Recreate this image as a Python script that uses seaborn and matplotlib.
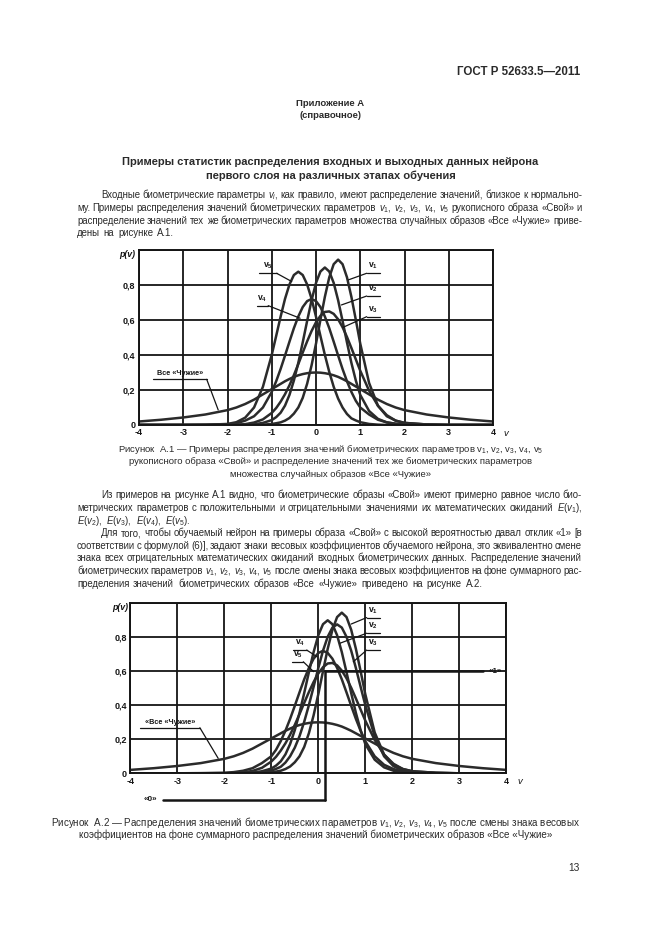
"""
Страница ГОСТ Р 52633.5-2011, приложение А: два графика распределений
биометрических параметров v1..v5 и образов «Все «Чужие».
"""

import matplotlib
matplotlib.use("Agg")
import matplotlib.pyplot as plt
import seaborn as sns

sns.set_theme(style="white")
plt.rcParams["font.family"] = ["Liberation Sans", "DejaVu Sans"]
plt.rcParams["mathtext.fontset"] = "custom"
plt.rcParams["mathtext.rm"] = "Liberation Sans"
plt.rcParams["mathtext.it"] = "Liberation Sans:italic"
plt.rcParams["mathtext.bf"] = "Liberation Sans:bold"

X = [-4, -3.5, -3, -2.5, -2, -1.8, -1.6, -1.4, -1.2, -1.0,
     -0.9, -0.8, -0.7, -0.6, -0.5, -0.4, -0.3, -0.2, -0.1, 0.0,
     0.1, 0.2, 0.3, 0.4, 0.5, 0.6, 0.7, 0.8, 0.9, 1.0,
     1.2, 1.4, 1.6, 1.8, 2.0, 2.5, 3.0, 3.5, 4.0]

V1 = [0, 0, 0, 0, 0, 0, 0, 0, 0.002, 0.006,
      0.010, 0.015, 0.025, 0.040, 0.065, 0.100, 0.155, 0.236, 0.341, 0.465,
      0.601, 0.732, 0.844, 0.919, 0.945, 0.919, 0.844, 0.732, 0.601, 0.465,
      0.240, 0.110, 0.050, 0.025, 0.012, 0.003, 0, 0, 0]
V2 = [0, 0, 0, 0, 0, 0, 0.001, 0.004, 0.012, 0.028,
      0.045, 0.070, 0.111, 0.172, 0.254, 0.355, 0.472, 0.595, 0.713, 0.812,
      0.877, 0.900, 0.877, 0.812, 0.713, 0.595, 0.472, 0.355, 0.254, 0.172,
      0.080, 0.035, 0.015, 0.007, 0.003, 0, 0, 0, 0]
V3 = [0, 0, 0, 0, 0.001, 0.002, 0.005, 0.014, 0.032, 0.069,
      0.097, 0.133, 0.176, 0.227, 0.285, 0.348, 0.414, 0.478, 0.537, 0.587,
      0.624, 0.646, 0.649, 0.635, 0.604, 0.559, 0.503, 0.440, 0.375, 0.310,
      0.196, 0.110, 0.056, 0.025, 0.012, 0.003, 0, 0, 0]
V4 = [0, 0, 0, 0.001, 0.004, 0.010, 0.025, 0.050, 0.100, 0.189,
      0.250, 0.320, 0.397, 0.476, 0.553, 0.620, 0.674, 0.708, 0.720, 0.708,
      0.674, 0.620, 0.553, 0.476, 0.397, 0.320, 0.250, 0.189, 0.138, 0.100,
      0.060, 0.030, 0.015, 0.007, 0.003, 0.001, 0, 0, 0]
V5 = [0, 0, 0, 0.001, 0.006, 0.016, 0.042, 0.100, 0.218, 0.401,
      0.509, 0.619, 0.721, 0.803, 0.857, 0.876, 0.857, 0.803, 0.721, 0.619,
      0.509, 0.401, 0.303, 0.218, 0.151, 0.100, 0.063, 0.038, 0.026, 0.016,
      0.006, 0.002, 0, 0, 0, 0, 0, 0, 0]
ALIEN = [0.020, 0.030, 0.043, 0.060, 0.085, 0.100, 0.120, 0.145, 0.175, 0.205,
         0.220, 0.235, 0.250, 0.263, 0.275, 0.284, 0.291, 0.296, 0.299, 0.300,
         0.299, 0.296, 0.291, 0.284, 0.275, 0.263, 0.250, 0.235, 0.220, 0.205,
         0.175, 0.145, 0.120, 0.100, 0.085, 0.060, 0.043, 0.030, 0.020]

# рисунок А.2: отрицательные мат. ожидания (v4, v5) меняют знак
V4_FLIP = V4[::-1]
V5_FLIP = V5[::-1]

# выход нейрона «0»/«1»
STEP_X = 0.15
LEVEL_1 = 0.6
LEVEL_0 = -0.157

X_TICKS = [-4, -3, -2, -1, 0, 1, 2, 3, 4]
X_LABELS = ["-4", "-3", "-2", "-1", "0", "1", "2", "3", "4"]
Y_TICKS = [0, 0.2, 0.4, 0.6, 0.8, 1.0]
Y_LABELS = ["0", "0,2", "0,4", "0,6", "0,8", ""]

TEXT = "#2a2a2a"
INK = "#151515"
CURVE = "#2b2b2b"
W, H = 661, 936
BODY = 6.9
CAP = 6.8

fig = plt.figure(figsize=(W / 100, H / 100), dpi=100)
renderer = fig.canvas.get_renderer()


def fy(py):
    return 1 - py / H


def put_line(text, py, x0=77, x1=582, indent=0, justify=True, size=BODY):
    """Строка абзаца с выравниванием по ширине (пробелы растягиваются)."""
    words = text.split(" ")
    items = [fig.text(0, fy(py), w, fontsize=size, va="baseline", color=TEXT) for w in words]
    widths = [t.get_window_extent(renderer).width for t in items]
    start = x0 + indent
    if justify and len(words) > 1:
        gap = (x1 - start - sum(widths)) / (len(words) - 1)
    else:
        gap = 0.4 * size * 100 / 72
    x = start
    for t, w in zip(items, widths):
        t.set_x(x / W)
        x += w + gap


def center_line(text, py, size=BODY, bold=False, cx=330.5):
    fig.text(cx / W, fy(py), text, ha="center", va="baseline", fontsize=size,
             fontweight="bold" if bold else "normal", color=TEXT)


def callout(ax, label, ux0, ux1, uy, tip, size=6.2):
    """Выноска: подчёркнутая подпись и линия к кривой."""
    joint = ux0 if tip[0] < ux0 else ux1
    ax.plot([ux0, ux1], [uy, uy], color=INK, lw=0.9, clip_on=False)
    ax.plot([joint, tip[0]], [uy, tip[1]], color=INK, lw=0.9, clip_on=False)
    ax.text((ux0 + ux1) / 2, uy + 0.012, label, ha="center", va="bottom",
            fontsize=size, fontweight="bold", color=INK)


def draw_chart(ax, curves, pv_x):
    ax.set_xlim(-4, 4)
    ax.set_ylim(0, 1)
    ax.set_xticks(X_TICKS)
    ax.set_yticks(Y_TICKS)
    ax.set_xticklabels(X_LABELS, fontsize=6.5, fontweight="bold", color=INK)
    ax.set_yticklabels(Y_LABELS, fontsize=6.5, fontweight="bold", color=INK)
    ax.tick_params(length=0, pad=2.5)
    ax.grid(True, color=INK, lw=1.3)
    for sp in ax.spines.values():
        sp.set_color(INK)
        sp.set_linewidth(1.4)
    for ys in curves:
        sns.lineplot(x=X, y=ys, ax=ax, color=CURVE, lw=1.8, estimator=None, legend=False)
    ax.set_xlabel("")
    ax.set_ylabel("")
    ax.text(pv_x, 0.975, "p(v)", transform=ax.transAxes, ha="right", va="center",
            fontsize=6.3, fontstyle="italic", fontweight="bold", color=INK)
    ax.text(4.24, -0.046, "v", ha="left", va="center", fontsize=6.8,
            fontstyle="italic", color=INK, clip_on=False)


# --- заголовки и текст ---
fig.text(580 / W, fy(75), "ГОСТ Р 52633.5—2011", ha="right", va="baseline",
         fontsize=8.3, fontweight="bold", color=TEXT)
center_line("Приложение А", 106, size=6.8, bold=True)
center_line("(справочное)", 118, size=6.8, bold=True)
center_line("Примеры статистик распределения входных и выходных данных нейрона", 165, size=8, bold=True)
center_line("первого слоя на различных этапах обучения", 179, size=8, bold=True)

put_line("Входные биометрические параметры $v_i$, как правило, имеют распределение значений, близкое к нормально-", 198.5, indent=24)
put_line("му. Примеры распределения значений биометрических параметров $v_1$, $v_2$, $v_3$, $v_4$, $v_5$ рукописного образа «Свой» и", 211)
put_line("распределение значений тех же биометрических параметров множества случайных образов «Все «Чужие» приве-", 223.5)
put_line("дены на рисунке А.1.", 236, justify=False)

center_line("Рисунок  А.1 — Примеры распределения значений биометрических параметров v$_1$, v$_2$, v$_3$, v$_4$, v$_5$", 452, size=CAP)
center_line("рукописного образа «Свой» и распределение значений тех же биометрических параметров", 464.5, size=CAP)
center_line("множества случайных образов «Все «Чужие»", 477, size=CAP)

put_line("Из примеров на рисунке А.1 видно, что биометрические образы «Свой» имеют примерно равное число био-", 498.5, indent=24)
put_line("метрических параметров с положительными и отрицательными значениями их математических ожиданий $E(v_1)$,", 511)
put_line("$E(v_2)$, $E(v_3)$, $E(v_4)$, $E(v_5)$.", 523.6, justify=False)
put_line("Для того, чтобы обучаемый нейрон на примеры образа «Свой» с высокой вероятностью давал отклик «1» [в", 536.2, indent=24)
put_line("соответствии с формулой (6)], задают знаки весовых коэффициентов обучаемого нейрона, это эквивалентно смене", 548.8)
put_line("знака всех отрицательных математических ожиданий входных биометрических данных. Распределение значений", 561.4)
put_line("биометрических параметров $v_1$, $v_2$, $v_3$, $v_4$, $v_5$ после смены знака весовых коэффициентов на фоне суммарного рас-", 574)
put_line("пределения значений биометрических образов «Все «Чужие» приведено на рисунке А.2.", 586.6, justify=False)

center_line("Рисунок  А.2 — Распределения значений биометрических параметров $v_1$, $v_2$, $v_3$, $v_4$, $v_5$ после смены знака весовых", 826, size=7.1, cx=316)
center_line("коэффициентов на фоне суммарного распределения значений биометрических образов «Все «Чужие»", 838.5, size=7.1, cx=316)
fig.text(580 / W, fy(871), "13", ha="right", va="baseline", fontsize=7.3, color=TEXT)

# --- рисунок А.1 ---
ax1 = fig.add_axes([139 / W, fy(425), (493 - 139) / W, 175 / H])
draw_chart(ax1, [ALIEN, V1, V2, V3, V4, V5], -0.011)
callout(ax1, r"$\mathbf{v_5}$", -1.28, -0.89, 0.867, (-0.55, 0.82))
callout(ax1, r"$\mathbf{v_4}$", -1.34, -1.08, 0.682, (-0.36, 0.61))
callout(ax1, r"$\mathbf{v_1}$", 1.146, 1.446, 0.867, (0.73, 0.829))
callout(ax1, r"$\mathbf{v_2}$", 1.146, 1.446, 0.737, (0.575, 0.686))
callout(ax1, r"$\mathbf{v_3}$", 1.146, 1.446, 0.619, (0.61, 0.558))
callout(ax1, "Все «Чужие»", -3.68, -2.47, 0.261, (-2.21, 0.086), size=5.2)

# --- рисунок А.2 ---
ax2 = fig.add_axes([130.3 / W, fy(773.3), 376 / W, 170 / H])
draw_chart(ax2, [ALIEN, V1, V2, V3, V4_FLIP, V5_FLIP], -0.006)
callout(ax2, r"$\mathbf{v_1}$", 1.03, 1.31, 0.916, (0.70, 0.878))
callout(ax2, r"$\mathbf{v_2}$", 1.03, 1.31, 0.824, (0.46, 0.765))
callout(ax2, r"$\mathbf{v_3}$", 1.03, 1.31, 0.725, (0.745, 0.656))
callout(ax2, r"$\mathbf{v_4}$", -0.545, -0.247, 0.725, (-0.03, 0.686))
callout(ax2, r"$\mathbf{v_5}$", -0.566, -0.319, 0.656, (-0.10, 0.598))
callout(ax2, "«Все «Чужие»", -3.79, -2.52, 0.268, (-2.13, 0.088), size=5.2)

ax2.plot([STEP_X, STEP_X], [LEVEL_0, LEVEL_1], color=INK, lw=1.8, clip_on=False)
ax2.plot([STEP_X, 3.5], [LEVEL_1, LEVEL_1], color=INK, lw=1.8)
ax2.plot([-3.3, STEP_X], [LEVEL_0, LEVEL_0], color=INK, lw=1.8, clip_on=False)
ax2.text(3.76, LEVEL_1, "«1»", ha="center", va="center", fontsize=5.8, fontweight="bold", color=INK)
ax2.text(-3.58, LEVEL_0, "«0»", ha="center", va="center", fontsize=5.8, fontweight="bold",
         color=INK, clip_on=False)

fig.savefig("out.png", dpi=100)
plt.close(fig)
